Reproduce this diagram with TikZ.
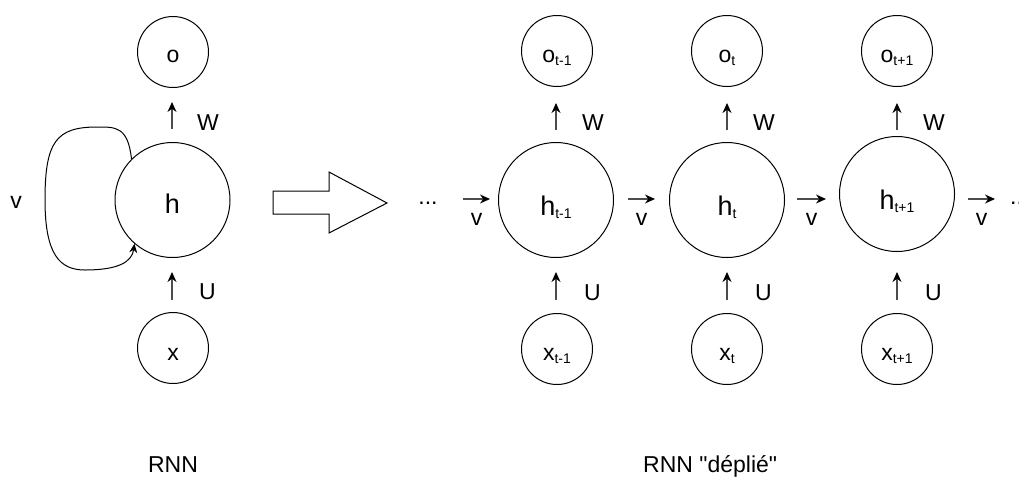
\documentclass[tikz,border=0pt]{standalone}
\usepackage{fontspec}
\setmainfont{Liberation Sans}[Ligatures=TeXOff]
\usetikzlibrary{arrows.meta}
\newcommand{\sbt}[1]{\raisebox{-3pt}{\fontsize{14}{14}\selectfont #1}}
\begin{document}
\begin{tikzpicture}[x=1pt,y=-1pt,
  smallc/.style={circle,draw,line width=1pt,minimum size=71pt,inner sep=0pt},
  bigc/.style={circle,draw,line width=1pt,minimum size=115pt,inner sep=0pt},
  lab/.style={inner sep=0pt,font=\fontsize{23}{23}\selectfont},
  hlab/.style={inner sep=0pt,font=\fontsize{27}{27}\selectfont},
  arr/.style={line width=1.2pt,draw=black!70,-{Stealth[length=10pt,width=9pt,color=black]}}
]
\useasboundingbox (0,0) rectangle (1019,477);
\fill[white] (0,0) rectangle (1019,477);

% ---------- left: folded RNN ----------
\node[smallc] (o) at (173,52) {};
\node[bigc] (h) at (172.5,200) {};
\node[smallc] (x) at (173,348) {};
\node[lab,anchor=base] at ([yshift=-10pt]o.center) {o};
\node[hlab,anchor=base] at ([yshift=-13pt]h.center) {h};
\node[lab,anchor=base] at ([yshift=-12pt]x.center) {x};

\coordinate (wa0) at (172,129); \coordinate (wb0) at (172,102);
\coordinate (ua0) at (172,300); \coordinate (ub0) at (172,272);
\draw[arr] (wa0) -- (wb0);
\draw[arr] (ua0) -- (ub0);
\node[lab,anchor=base west] at (197,130) {W};
\node[lab,anchor=base west] at (199,299) {U};

\draw[line width=1pt,-{Stealth[length=9pt,width=8pt]}]
  (h.135) .. controls (128,126) and (115,127) .. (97,127)
  .. controls (56,127) and (45,142) .. (45,200)
  .. controls (45,255) and (60,270) .. (85,270)
  .. controls (118,270) and (132,262) .. (h.229);
\node[lab,anchor=base] at (16,208) {v};

% ---------- big arrow ----------
\draw[line width=1pt,fill=white] (273,191) -- (329,191) -- (329,172) -- (387,203)
  -- (329,233) -- (329,214) -- (273,214) -- cycle;

% ---------- right: unfolded RNN ----------
\node[smallc] (o1) at (557,51) {};
\node[smallc] (o2) at (727,51) {};
\node[smallc] (o3) at (897,51) {};
\node[bigc] (h1) at (556,200) {};
\node[bigc] (h2) at (727,200) {};
\node[bigc] (h3) at (897,194) {};
\node[smallc] (x1) at (557,349) {};
\node[smallc] (x2) at (727,349) {};
\node[smallc] (x3) at (897,349) {};

\node[lab,anchor=base] at ([yshift=-11pt]o1.center) {o\sbt{t-1}};
\node[lab,anchor=base] at ([yshift=-11pt]o2.center) {o\sbt{t}};
\node[lab,anchor=base] at ([yshift=-11pt]o3.center) {o\sbt{t+1}};
\node[hlab,anchor=base] at ([yshift=-15pt]h1.center) {h\sbt{t-1}};
\node[hlab,anchor=base] at ([yshift=-15pt]h2.center) {h\sbt{t}};
\node[hlab,anchor=base] at ([yshift=-15pt]h3.center) {h\sbt{t+1}};
\node[lab,anchor=base] at ([yshift=-11pt]x1.center) {x\sbt{t-1}};
\node[lab,anchor=base] at ([yshift=-11pt]x2.center) {x\sbt{t}};
\node[lab,anchor=base] at ([yshift=-11pt]x3.center) {x\sbt{t+1}};

\foreach \i/\cx in {1/556,2/727,3/897}{
  \coordinate (wa\i) at (\cx,130); \coordinate (wb\i) at (\cx,103);
  \coordinate (ua\i) at (\cx,300); \coordinate (ub\i) at (\cx,272);
  \draw[arr] (wa\i) -- (wb\i);
  \draw[arr] (ua\i) -- (ub\i);
  \node[lab,anchor=base west] at (\cx+26,130) {W};
  \node[lab,anchor=base west] at (\cx+28,300) {U};
}

\foreach \i/\a/\b in {1/463/490,2/628/655,3/797/826,4/968/995}{
  \coordinate (va\i) at (\a,199); \coordinate (vb\i) at (\b,199);
  \draw[arr] (va\i) -- (vb\i);
  \node[lab,anchor=base] at ({(\a+\b)/2},225) {v};
}
\node[lab,anchor=base] at (428,204) {...};
\node[lab,anchor=base west] at (1010,204) {...};

% ---------- captions ----------
\node[lab,anchor=base] at (173,472) {RNN};
\node[lab,anchor=base west] at (643,472) {RNN "déplié"};
\end{tikzpicture}
\end{document}
